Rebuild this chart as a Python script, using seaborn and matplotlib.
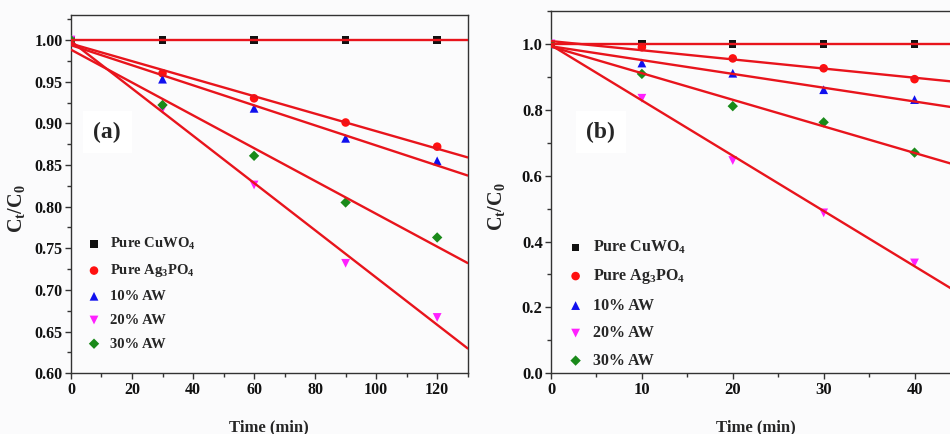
import numpy as np
import pandas as pd
import matplotlib
matplotlib.use("Agg")
import matplotlib.pyplot as plt
from matplotlib.ticker import MultipleLocator, FormatStrFormatter
import seaborn as sns

# ---- data ---------------------------------------------------------------
samples = ["Pure CuWO$_4$", "Pure Ag$_3$PO$_4$", "10% AW", "20% AW", "30% AW"]

time_a = [0, 30, 60, 90, 120]
cuwo4_a = [1.000, 1.000, 1.000, 1.000, 1.000]
ag3po4_a = [1.000, 0.960, 0.930, 0.901, 0.872]
aw10_a = [1.000, 0.953, 0.918, 0.882, 0.855]
aw20_a = [1.000, 0.917, 0.826, 0.732, 0.667]
aw30_a = [1.000, 0.922, 0.861, 0.805, 0.763]

time_b = [0, 10, 20, 30, 40]
cuwo4_b = [1.000, 1.000, 1.000, 1.000, 1.000]
ag3po4_b = [1.000, 0.990, 0.956, 0.926, 0.893]
aw10_b = [1.000, 0.942, 0.911, 0.861, 0.831]
aw20_b = [1.000, 0.835, 0.646, 0.487, 0.335]
aw30_b = [1.000, 0.909, 0.811, 0.762, 0.670]

# ---- style --------------------------------------------------------------
sns.set_theme(style="ticks")
plt.rcParams.update({
    "font.family": ["Liberation Serif", "DejaVu Serif"],
    "font.weight": "bold",
    "axes.labelweight": "bold",
    "mathtext.fontset": "custom",
    "mathtext.rm": "Liberation Serif:bold",
    "mathtext.it": "Liberation Serif:bold",
    "mathtext.bf": "Liberation Serif:bold",
    "axes.edgecolor": "#333333",
    "axes.linewidth": 1.0,
    "xtick.color": "#333333",
    "ytick.color": "#333333",
    "xtick.labelcolor": "#111111",
    "ytick.labelcolor": "#111111",
})

palette = {samples[0]: "#111111", samples[1]: "#ff1010", samples[2]: "#1010ee",
           samples[3]: "#ff20ff", samples[4]: "#1a8a1a"}
markers = {samples[0]: "s", samples[1]: "o", samples[2]: "^",
           samples[3]: "v", samples[4]: "D"}
sizes = {samples[0]: 28, samples[1]: 38, samples[2]: 40, samples[3]: 40, samples[4]: 28}


def build_frame(t, series):
    rows = []
    for name, vals in zip(samples, series):
        for ti, v in zip(t, vals):
            rows.append({"Time (min)": ti, "Ct/C0": v, "sample": name})
    return pd.DataFrame(rows)


df_a = build_frame(time_a, [cuwo4_a, ag3po4_a, aw10_a, aw20_a, aw30_a])
df_b = build_frame(time_b, [cuwo4_b, ag3po4_b, aw10_b, aw20_b, aw30_b])

fig = plt.figure(figsize=(9.5, 4.34), dpi=100)
fig.patch.set_facecolor("#fbfbfc")

ax_a = fig.add_axes([0.0747, 0.1399, 0.4176, 0.8255])
ax_b = fig.add_axes([0.5800, 0.1399, 0.4305, 0.8348])


def draw_panel(ax, df, xlim, ylim, xmaj, xmin, ymaj, ymin, yfmt, tag, tag_pos,
               legend_anchor, legend_size, legend_spacing, tick_size, ylabel_xy):
    ax.set_facecolor("#fbfbfc")
    ax.set_xlim(*xlim)
    ax.set_ylim(*ylim)
    for name in samples:
        sub = df[df["sample"] == name]
        sns.scatterplot(data=sub, x="Time (min)", y="Ct/C0", ax=ax,
                        color=palette[name], marker=markers[name], s=sizes[name],
                        edgecolor="none", linewidth=0, zorder=3, label=name)
    # linear fits over the full time range
    for name in samples:
        sub = df[df["sample"] == name]
        sns.regplot(data=sub, x="Time (min)", y="Ct/C0", ax=ax, scatter=False,
                    ci=None, truncate=False, color="#e8141c",
                    line_kws={"lw": 1.7, "zorder": 4})
    ax.set_xlim(*xlim)
    ax.set_ylim(*ylim)
    ax.xaxis.set_major_locator(MultipleLocator(xmaj))
    ax.xaxis.set_minor_locator(MultipleLocator(xmin))
    ax.yaxis.set_major_locator(MultipleLocator(ymaj))
    ax.yaxis.set_minor_locator(MultipleLocator(ymin))
    ax.yaxis.set_major_formatter(FormatStrFormatter(yfmt))
    ax.tick_params(which="major", direction="out", length=4, width=1,
                   labelsize=tick_size, pad=2)
    ax.tick_params(which="minor", direction="out", length=3, width=1)
    for lab in ax.get_xticklabels() + ax.get_yticklabels():
        lab.set_fontweight("bold")
    ax.set_xlabel("Time (min)", fontsize=12, fontweight="bold", labelpad=16)
    ax.set_ylabel(r"C$_\mathrm{t}$/C$_\mathrm{0}$", fontsize=14.5, fontweight="bold")
    ax.yaxis.set_label_coords(*ylabel_xy)
    for side in ["top", "right", "left", "bottom"]:
        ax.spines[side].set_visible(True)
    ax.text(tag_pos[0], tag_pos[1], tag, transform=ax.transAxes, fontsize=17,
            fontweight="bold", ha="center", va="center", zorder=2,
            bbox=dict(boxstyle="square,pad=0.45", fc="white", ec="none"))
    ax.legend(loc="upper left", bbox_to_anchor=legend_anchor, frameon=False,
              fontsize=legend_size, handletextpad=0.6, labelspacing=legend_spacing,
              handlelength=1.0, borderaxespad=0, markerscale=1.0)


draw_panel(ax_a, df_a, (0, 130), (0.60, 1.03), 20, 10, 0.05, 0.025, "%.2f", "(a)",
           (0.091, 0.673), (0.025, 0.40), 10.5, 0.72, 11.5, (-0.112, 0.46))
draw_panel(ax_b, df_b, (0, 45), (0.0, 1.1), 10, 5, 0.2, 0.1, "%.1f", "(b)",
           (0.122, 0.666), (0.025, 0.39), 11.5, 0.72, 12, (-0.108, 0.46))

fig.savefig("out.png", dpi=100, facecolor=fig.get_facecolor())
